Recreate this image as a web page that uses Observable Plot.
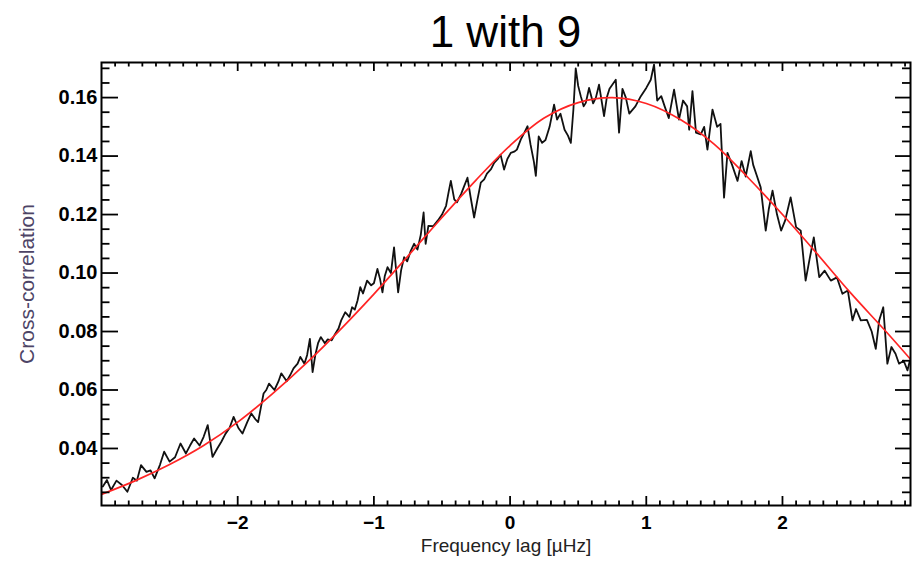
<!DOCTYPE html>
<html><head><meta charset="utf-8">
<script src="https://cdn.jsdelivr.net/npm/d3@7"></script>
<script src="https://cdn.jsdelivr.net/npm/@observablehq/plot@0.6"></script>
<style>
body{margin:0;background:#fff;}
#title{box-sizing:border-box;width:917px;height:61px;padding:10px 7px 0 101px;text-align:center;font-family:"Liberation Sans",Arial,sans-serif;font-size:44px;line-height:1;color:#000;}
#chart svg{display:block;}
</style></head><body>
<div id="title">1 with 9</div>
<div id="chart"></div>
<script>
// ---- data ----
const xMajorTicks = [-2, -1, 0, 1, 2];
const yMajorTicks = [0.04, 0.06, 0.08, 0.10, 0.12, 0.14, 0.16];
const xTitle = "Frequency lag [\u00b5Hz]";
const yTitle = "Cross-correlation";

// fitted (red) curve
const fitLag  = [-3.0,-2.75,-2.5,-2.25,-2.0,-1.75,-1.5,-1.25,-1.0,-0.75,-0.5,-0.25,0,0.25,0.5,0.75,1.0,1.25,1.5,1.75,2.0,2.25,2.5,2.75,2.94];
const fitCorr = [0.0243,0.0290,0.0345,0.0410,0.0490,0.0585,0.0690,0.0805,0.0928,0.1058,0.1190,0.1318,0.1436,0.1530,0.1583,0.1600,0.1580,0.1525,0.1440,0.1325,0.1200,0.1068,0.0932,0.0805,0.0705];

// measured (black) cross-correlation
const dataLag = [-2.99,-2.96,-2.93,-2.89,-2.85,-2.81,-2.77,-2.74,-2.71,-2.67,-2.64,-2.61,-2.57,-2.54,-2.50,-2.46,-2.42,-2.38,-2.35,-2.32,-2.28,-2.25,-2.22,-2.185,-2.15,-2.12,-2.09,-2.06,-2.03,-1.995,-1.965,-1.93,-1.90,-1.87,-1.85,-1.83,-1.81,
-1.79,-1.77,-1.73,-1.70,-1.68,-1.64,-1.61,-1.59,-1.56,-1.54,-1.51,-1.49,-1.47,-1.45,-1.43,-1.41,-1.39,-1.36,-1.34,-1.31,-1.29,-1.26,-1.24,-1.21,-1.18,-1.16,-1.14,-1.12,-1.10,-1.08,-1.05,-1.02,-1.00,-0.974,-0.955,-0.937,-0.92,-0.90,-0.875,-0.852,-0.822,-0.80,-0.778,-0.755,-0.73,-0.705,
-0.68,-0.656,-0.635,-0.62,-0.60,-0.565,-0.53,-0.50,-0.47,-0.45,-0.435,-0.41,-0.39,-0.36,-0.335,-0.313,-0.29,-0.264,-0.24,-0.215,-0.19,-0.17,-0.14,-0.117,-0.09,-0.07,-0.044,-0.02,0.005,0.03,0.05,0.079,0.105,0.128,0.15,0.175,0.189,0.21,0.235,0.26,0.29,0.323,0.345,0.37,0.40,0.425,0.446,0.465,0.482,0.50,0.519,0.54,
0.556,0.58,0.61,0.63,0.653,0.69,0.71,0.73,0.776,0.80,0.825,0.85,0.875,0.92,0.96,1.00,1.033,1.057,1.08,1.11,1.135,1.165,1.204,1.24,1.27,1.30,1.315,1.339,1.365,1.40,1.425,1.449,1.486,1.52,1.545,1.571,1.596,1.63,1.67,1.70,1.73,1.767,
1.785,1.81,1.84,1.877,1.90,1.927,1.96,1.99,2.02,2.06,2.10,2.134,2.17,2.20,2.23,2.27,2.31,2.355,2.40,2.44,2.48,2.514,2.54,2.575,2.62,2.655,2.685,2.71,2.74,2.77,2.80,2.83,2.856,2.89,2.918,2.935];
const dataCorr = [0.0270,0.0292,0.0258,0.0290,0.0275,0.0252,0.0300,0.0290,0.0343,0.0320,0.0325,0.0298,0.0345,0.0389,0.0355,0.0370,0.0417,0.0383,0.0410,0.0434,0.0410,0.0440,0.0480,0.0371,0.0400,0.0423,0.0450,0.0470,0.0508,0.0470,0.0451,0.0490,0.0520,0.0500,0.0490,0.0540,0.0588,
0.0600,0.0622,0.0600,0.0630,0.0657,0.0630,0.0655,0.0674,0.0690,0.0713,0.0690,0.0720,0.0775,0.0661,0.0720,0.0760,0.0781,0.0760,0.0773,0.0770,0.0787,0.0810,0.0838,0.0866,0.0850,0.0883,0.0875,0.0906,0.0952,0.0930,0.0974,0.0958,0.0965,0.1014,0.0980,0.0934,0.0990,0.1020,0.1000,0.1088,0.0934,0.1010,0.1054,0.1040,0.1075,0.1100,
0.1080,0.1130,0.1207,0.1100,0.1161,0.1160,0.1180,0.1200,0.1230,0.1280,0.1315,0.1252,0.1242,0.1270,0.1300,0.1326,0.1260,0.1190,0.1250,0.1309,0.1320,0.1340,0.1355,0.1377,0.1390,0.1405,0.1354,0.1390,0.1411,0.1415,0.1422,0.1457,0.1480,0.1502,0.1440,0.1380,0.1332,0.1467,0.1445,0.1455,0.1500,0.1576,0.1525,0.1545,0.1490,0.1470,0.1445,0.1560,0.1700,0.1640,0.1605,0.1570,
0.1582,0.1633,0.1580,0.1600,0.1644,0.1537,0.1600,0.1630,0.1661,0.1480,0.1630,0.1600,0.1545,0.1570,0.1605,0.1633,0.1661,0.1713,0.1590,0.1605,0.1570,0.1530,0.1627,0.1525,0.1590,0.1570,0.1490,0.1622,0.1480,0.1474,0.1500,0.1422,0.1559,0.1500,0.1510,0.1258,0.1411,0.1370,0.1315,0.1383,0.1330,0.1417,
0.1370,0.1335,0.1293,0.1145,0.1220,0.1282,0.1200,0.1145,0.1180,0.1259,0.1157,0.1145,0.0974,0.1050,0.1122,0.0986,0.1008,0.0974,0.0985,0.0929,0.0940,0.0838,0.0877,0.0838,0.0840,0.0800,0.0741,0.0838,0.0883,0.0690,0.0747,0.0724,0.0690,0.0700,0.0667,0.0700];

// ---- build ----
const fit = fitLag.map((x, i) => ({lag: x, corr: fitCorr[i]}));
const data = dataLag.map((x, i) => ({lag: x, corr: dataCorr[i]}));

const W = 917, H = 501, mL = 101, mR = 7, mT = 1, mB = 57;
const innerW = W - mL - mR, innerH = H - mT - mB;
const xMinor = d3.range(-29, 30).map(i => i / 10).filter(v => Math.abs(v - Math.round(v)) > 1e-9);
const yMinor = d3.range(5, 35).map(i => +(i * 0.005).toFixed(3)).filter(v => Math.abs(v / 0.02 - Math.round(v / 0.02)) > 1e-6);

const tickFont = "'Liberation Sans Narrow','Liberation Sans',Arial,sans-serif";
const tickStroke = {stroke: "#000", strokeWidth: 1.8};

const chart = Plot.plot({
  width: W, height: H,
  marginLeft: mL, marginRight: mR, marginTop: mT, marginBottom: mB,
  style: {fontFamily: tickFont, background: "#fff", color: "#000", overflow: "visible"},
  x: {domain: [-3.0, 2.94]},
  y: {domain: [0.0205, 0.172]},
  marks: [
    Plot.line(data, {x: "lag", y: "corr", stroke: "#111", strokeWidth: 1.8, clip: true}),
    Plot.line(fit, {x: "lag", y: "corr", stroke: "#ff2424", strokeWidth: 1.7, curve: "catmull-rom", clip: true}),
    // bottom ticks (inward)
    Plot.tickX(xMajorTicks, {x: d => d, insetTop: innerH - 9, ...tickStroke}),
    Plot.tickX(xMinor, {x: d => d, insetTop: innerH - 4.5, ...tickStroke}),
    // top ticks
    Plot.tickX(xMajorTicks, {x: d => d, insetBottom: innerH - 9, ...tickStroke}),
    Plot.tickX(xMinor, {x: d => d, insetBottom: innerH - 4.5, ...tickStroke}),
    // left ticks
    Plot.tickY(yMajorTicks, {y: d => d, insetRight: innerW - 17, ...tickStroke}),
    Plot.tickY(yMinor, {y: d => d, insetRight: innerW - 8.5, ...tickStroke}),
    // right ticks
    Plot.tickY(yMajorTicks, {y: d => d, insetLeft: innerW - 15, ...tickStroke}),
    Plot.tickY(yMinor, {y: d => d, insetLeft: innerW - 8, ...tickStroke}),
    Plot.frame({stroke: "#000", strokeWidth: 2}),
    Plot.axisX({ticks: xMajorTicks, tickSize: 0, tickPadding: 10, label: null, tickFormat: d3.format("d"), fontSize: 19, fontWeight: "bold", fontFamily: tickFont}),
    Plot.axisY({ticks: yMajorTicks, tickSize: 0, tickPadding: 4, label: null, tickFormat: d3.format(".2f"), fontSize: 20, fontWeight: "bold", fontFamily: tickFont}),
    Plot.text([xTitle], {text: d => d, frameAnchor: "bottom", textAnchor: "middle", dy: 46, fontSize: 19, fill: "#222", fontFamily: tickFont}),
    Plot.text([yTitle], {text: d => d, frameAnchor: "left", textAnchor: "middle", rotate: -90, dx: -74, fontSize: 21, fill: "#4d4466", fontFamily: tickFont})
  ]
});
document.getElementById("chart").appendChild(chart);
</script>
</body></html>
